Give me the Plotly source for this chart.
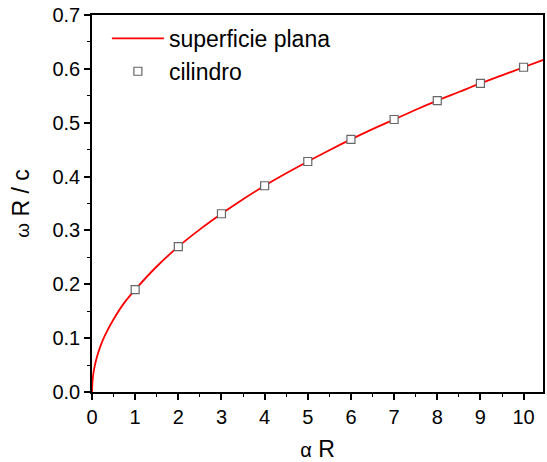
import plotly.graph_objects as go

# Line: superficie plana
line_x = [0, 0.02, 0.05, 0.1, 0.2, 0.3, 0.5, 0.75, 1, 1.5, 2, 2.5, 3, 3.5, 4, 4.5,
          5, 5.5, 6, 6.5, 7, 7.5, 8, 8.5, 9, 9.5, 10, 10.5]
line_y = [0, 0.027, 0.043, 0.061, 0.086, 0.105, 0.135, 0.166, 0.190, 0.233, 0.270,
          0.302, 0.331, 0.358, 0.383, 0.406, 0.428, 0.449, 0.469, 0.488, 0.506,
          0.524, 0.541, 0.557, 0.573, 0.588, 0.603, 0.618]

# Markers: cilindro
cyl_x = [1, 2, 3, 4, 5, 6, 7, 8, 9, 10]
cyl_y = [0.190, 0.270, 0.331, 0.383, 0.428, 0.469, 0.506, 0.541, 0.573, 0.603]

font = "Liberation Sans, Arial, sans-serif"

fig = go.Figure()
fig.add_trace(go.Scatter(x=line_x, y=line_y, mode="lines", name="superficie plana",
                         line=dict(color="#ff0000", width=1.8, shape="spline")))
fig.add_trace(go.Scatter(x=cyl_x, y=cyl_y, mode="markers", name="cilindro",
                         marker=dict(symbol="square", size=8, color="white",
                                     line=dict(color="#666666", width=1.2))))

axis_common = dict(showgrid=False, zeroline=False, showline=True, linecolor="black",
                   linewidth=1.6, mirror=True, ticks="outside", ticklen=6, tickwidth=1.6,
                   tickcolor="black", tickfont=dict(family=font, size=20, color="black"))

fig.update_xaxes(range=[0, 10.45], dtick=1, tick0=0,
                 minor=dict(ticks="outside", ticklen=3, tickwidth=1.4, dtick=0.5, tickcolor="black"),
                 title=dict(text="<span style='font-size:20px'>α</span> R",
                            font=dict(family=font, size=23, color="black"), standoff=16),
                 **axis_common)
fig.update_yaxes(range=[0, 0.7], dtick=0.1, tick0=0, tickformat=".1f",
                 minor=dict(ticks="outside", ticklen=3, tickwidth=1.4, dtick=0.05, tickcolor="black"),
                 title=dict(text="<span style='font-size:19px'>ω</span> R / c",
                            font=dict(family=font, size=23, color="black"), standoff=16),
                 **axis_common)

fig.update_layout(
    width=547, height=462,
    margin=dict(l=92, r=2, t=15, b=70),
    paper_bgcolor="white", plot_bgcolor="white",
    showlegend=True,
    legend=dict(x=0.033, y=0.995, xanchor="left", yanchor="top",
                font=dict(family=font, size=23, color="black"),
                bgcolor="rgba(0,0,0,0)", tracegroupgap=0, itemwidth=52),
)

fig.write_html("out.html")
